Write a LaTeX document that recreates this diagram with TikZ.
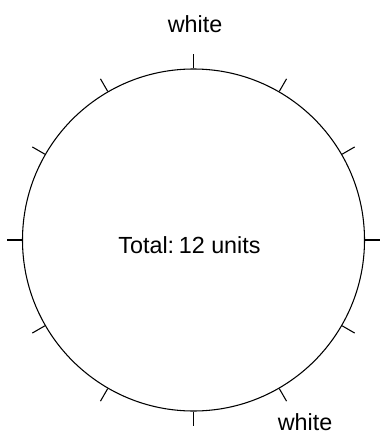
\documentclass[tikz,border=0pt]{standalone}
\usepackage{fontspec}
\setmainfont{Liberation Sans}
\usetikzlibrary{calc}
\begin{document}
\begin{tikzpicture}[x=0.75pt,y=-0.75pt,
  ring/.style={draw,circle,inner sep=0pt,minimum size=256.5pt,line width=0.8pt},
  tick/.style={line width=0.8pt},
  lbl/.style={anchor=base,inner sep=0pt,font=\fontsize{17.5pt}{20pt}\selectfont}]
\useasboundingbox (0,0) rectangle (380,434);
\node[ring] (c) at (193.5,240) {};
\foreach \a in {0,30,...,330}
  \draw[tick] (c.\a) -- ($(c.center)!1.085!(c.\a)$);
\node[lbl] (t) at (189.5,253) {Total:\hspace{0.2em}12 units};
\node[lbl] (w1) at (195,33) {white};
\node[lbl] (w2) at (305,430.5) {white};
\end{tikzpicture}
\end{document}
